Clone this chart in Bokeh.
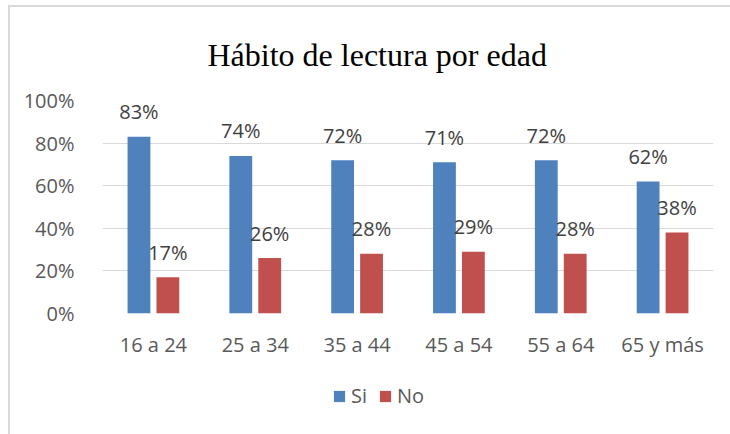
from bokeh.plotting import figure
from bokeh.layouts import column
from bokeh.core.properties import value
from bokeh.models import ColumnDataSource, LabelSet, Legend, LegendItem, Range1d, NumeralTickFormatter, FixedTicker, Title
from bokeh.transform import dodge
from bokeh.embed import file_html
from bokeh.resources import INLINE

categories = ["16 a 24", "25 a 34", "35 a 44", "45 a 54", "55 a 64", "65 y más"]
si = [0.83, 0.74, 0.72, 0.71, 0.72, 0.62]
no = [0.17, 0.26, 0.28, 0.29, 0.28, 0.38]
si_labels = ["83%", "74%", "72%", "71%", "72%", "62%"]
no_labels = ["17%", "26%", "28%", "29%", "28%", "38%"]
series = ["Si", "No"]
y_ticks = [0, 0.2, 0.4, 0.6, 0.8, 1.0]

BLUE = "#4F81BD"
RED = "#C0504D"
FONT = "Open Sans"

src = ColumnDataSource(dict(cat=categories, si=si, no=no, si_l=si_labels, no_l=no_labels))

p = figure(width=720, height=363, x_range=categories, y_range=Range1d(0, 1),
           output_backend="svg", toolbar_location=None,
           min_border_left=92, min_border_right=17, min_border_top=89, min_border_bottom=57)

p.title = Title(text="Hábito de lectura por edad", align="left", offset=105,
                text_font="Liberation Serif", text_font_size="32px",
                text_font_style="normal", text_color="#000000", standoff=55)

r1 = p.vbar(x=dodge("cat", -0.142, range=p.x_range), top="si", width=0.224, source=src,
            fill_color=BLUE, line_color=None)
r2 = p.vbar(x=dodge("cat", 0.142, range=p.x_range), top="no", width=0.224, source=src,
            fill_color=RED, line_color=None)

for col, lab, off in (("si", "si_l", -0.142), ("no", "no_l", 0.142)):
    ls = LabelSet(x=dodge("cat", off, range=p.x_range), y=col, text=lab, source=src,
                  y_offset=25, text_align="center", text_baseline="middle",
                  text_font=value(FONT), text_font_size="20px", text_color="#404040")
    p.add_layout(ls)

p.outline_line_color = None
p.xgrid.grid_line_color = None
p.ygrid.grid_line_color = "#D9D9D9"
p.ygrid.grid_line_width = 1
p.yaxis.ticker = FixedTicker(ticks=y_ticks)
p.yaxis.formatter = NumeralTickFormatter(format="0%")
for ax in (p.xaxis, p.yaxis):
    ax.axis_line_color = None
    ax.major_tick_line_color = None
    ax.minor_tick_line_color = None
    ax.major_label_text_font = FONT
    ax.major_label_text_font_size = "20px"
    ax.major_label_text_color = "#595959"
p.yaxis.major_label_standoff = 22
p.xaxis.major_label_standoff = 11

# legend strip (proxy renderers sit outside the visible range)
p2 = figure(width=720, height=64, x_range=(0, 1), y_range=(0, 1),
            output_backend="svg", toolbar_location=None,
            x_axis_location=None, y_axis_location=None,
            min_border_left=92, min_border_right=17, min_border_top=0, min_border_bottom=0)
p2.outline_line_color = None
p2.grid.grid_line_color = None
proxy = ColumnDataSource(dict(x=[-5], top=[-5]))
l1 = p2.vbar(x="x", top="top", width=0.1, source=proxy, fill_color=BLUE, line_color=None)
l2 = p2.vbar(x="x", top="top", width=0.1, source=proxy, fill_color=RED, line_color=None)
legend = Legend(items=[LegendItem(label=series[0], renderers=[l1]), LegendItem(label=series[1], renderers=[l2])],
                orientation="horizontal", location=(230, 25),
                glyph_width=14, glyph_height=14, label_text_font=FONT,
                label_text_font_size="20px", label_text_color="#595959",
                border_line_color=None, background_fill_alpha=0, spacing=7,
                label_standoff=5, padding=0, margin=0)
p2.add_layout(legend)

root = column(p, p2, spacing=0,
              styles={"border-left": "2px solid #D9D9D9", "border-top": "2px solid #D9D9D9",
                      "margin-left": "8px", "margin-top": "5px"})

open("out.html", "w").write(file_html(root, INLINE))
